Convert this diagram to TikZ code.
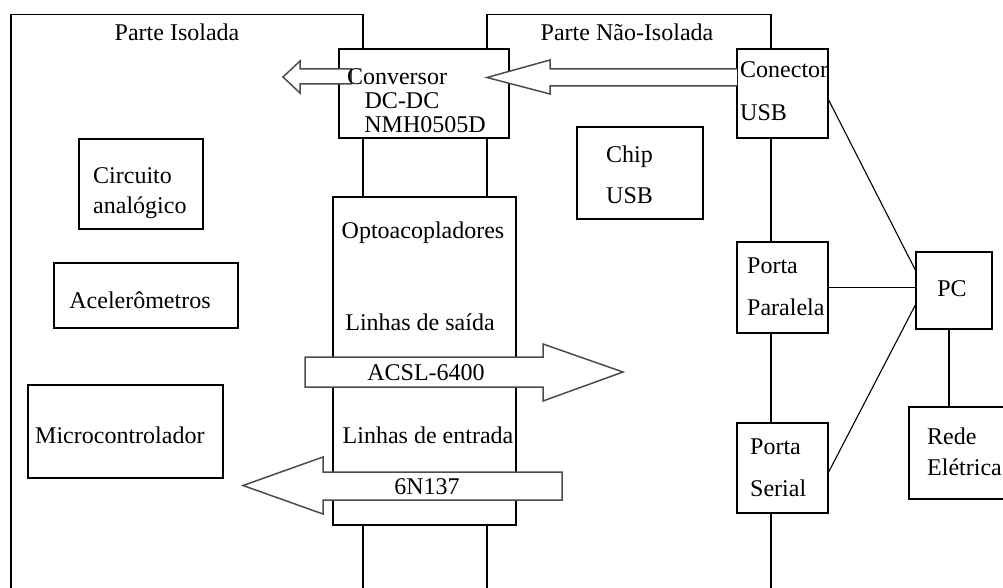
\documentclass[tikz,border=0pt]{standalone}
\usepackage{fontspec}
\setmainfont{Liberation Serif}
\begin{document}
\begin{tikzpicture}[x=1pt,y=-1pt,
  every node/.style={font=\fontsize{24}{28}\selectfont},
  frame/.style={draw, line width=1.3pt, rectangle, inner sep=0pt},
  blockbox/.style={draw, fill=white, line width=1.3pt, rectangle, inner sep=0pt},
  lbl/.style={inner sep=0pt, text height=16pt, text depth=0pt},
  wire/.style={line width=1.1pt},
  blockarrow/.style={draw=black!70, fill=white, line width=1.5pt, line join=miter}
]
\useasboundingbox (0,0) rectangle (1003,588);
\clip (0,0) rectangle (1003,588);

% the two domains, open towards the bottom
\node[frame, minimum width=352pt, minimum height=585.5pt] (isolada) at (187,307.25) {};
\node[frame, minimum width=284pt, minimum height=585.5pt] (naoisolada) at (629,307.25) {};

% blocks
\node[blockbox, minimum width=170pt, minimum height=89pt] (conversor) at (424,93.5) {};
\node[blockbox, minimum width=183pt, minimum height=328pt] (opto) at (424.5,361) {};
\node[blockbox, minimum width=126pt, minimum height=92pt] (chip) at (640,173) {};
\node[blockbox, minimum width=91pt, minimum height=89pt] (conector) at (782.5,93.5) {};
\node[blockbox, minimum width=91pt, minimum height=91pt] (paralela) at (782.5,287.5) {};
\node[blockbox, minimum width=91pt, minimum height=90pt] (serial) at (782.5,468) {};
\node[blockbox, minimum width=76pt, minimum height=77pt] (pc) at (954,290.5) {};
\node[blockbox, minimum width=131pt, minimum height=92pt] (rede) at (974.5,453) {};
\node[blockbox, minimum width=124pt, minimum height=90pt] (circuito) at (141,184) {};
\node[blockbox, minimum width=184pt, minimum height=65pt] (acel) at (146,295.5) {};
\node[blockbox, minimum width=195pt, minimum height=93pt] (micro) at (125.5,431.5) {};

% block arrows
\draw[blockarrow] (737,69) -- (550,69) -- (550,60) -- (487,77.5) -- (550,94) -- (550,86) -- (737,86);
\draw[blockarrow] (351,69) -- (300,69) -- (300,61) -- (283,77) -- (300,93) -- (300,84) -- (351,84) -- cycle;
\draw[blockarrow] (305,357) -- (543,357) -- (543,344) -- (623,372) -- (543,401) -- (543,387) -- (305,387) -- cycle;
\draw[blockarrow] (562,472) -- (323,472) -- (323,457) -- (243,485.5) -- (323,514) -- (323,500) -- (562,500) -- cycle;

% texts
\node[lbl] (t1) at (177,33) {Parte Isolada};
\node[lbl] (t2) at (627,33) {Parte Não-Isolada};
\node[lbl] (t3) at (397,77) {Conversor};
\node[lbl] (t4) at (402,101) {DC-DC};
\node[lbl] (t5) at (425,125) {NMH0505D};
\node[lbl, anchor=west] (t6) at (606,155) {Chip};
\node[lbl, anchor=west] (t7) at (606,196) {USB};
\node[lbl, anchor=west] (t8) at (740,70) {Conector};
\node[lbl, anchor=west] (t9) at (740,113) {USB};
\node[lbl, anchor=west] (t10) at (93,175) {Circuito};
\node[lbl, anchor=west] (t11) at (93,205) {analógico};
\node[lbl] (t12) at (140,300) {Acelerômetros};
\node[lbl, anchor=west] (t13) at (35,435) {Microcontrolador};
\node[lbl] (t14) at (423,230) {Optoacopladores};
\node[lbl] (t15) at (420,322) {Linhas de saída};
\node[lbl] (t16) at (428,435) {Linhas de entrada};
\node[lbl] (t17) at (426,372) {ACSL-6400};
\node[lbl] (t18) at (427,486) {6N137};
\node[lbl, anchor=west] (t19) at (747,265) {Porta};
\node[lbl, anchor=west] (t20) at (747,307) {Paralela};
\node[lbl, anchor=west] (t21) at (750,446) {Porta};
\node[lbl, anchor=west] (t22) at (750,488) {Serial};
\node[lbl] (t23) at (952,288) {PC};
\node[lbl, anchor=west] (t24) at (927,436) {Rede};
\node[lbl, anchor=west] (t25) at (927,467) {Elétrica};

% links to the PC
\draw[wire] ([yshift=-6.5pt]conector.east) -- ([yshift=20.5pt]pc.west);
\draw[wire] (paralela.east) -- (paralela.east -| pc.west);
\draw[wire] ([yshift=-4pt]serial.east) -- ([yshift=-14.5pt]pc.west);
\draw[wire] ([xshift=-5pt]pc.south) -- ([xshift=-5pt]pc.south |- rede.north);
\end{tikzpicture}
\end{document}
